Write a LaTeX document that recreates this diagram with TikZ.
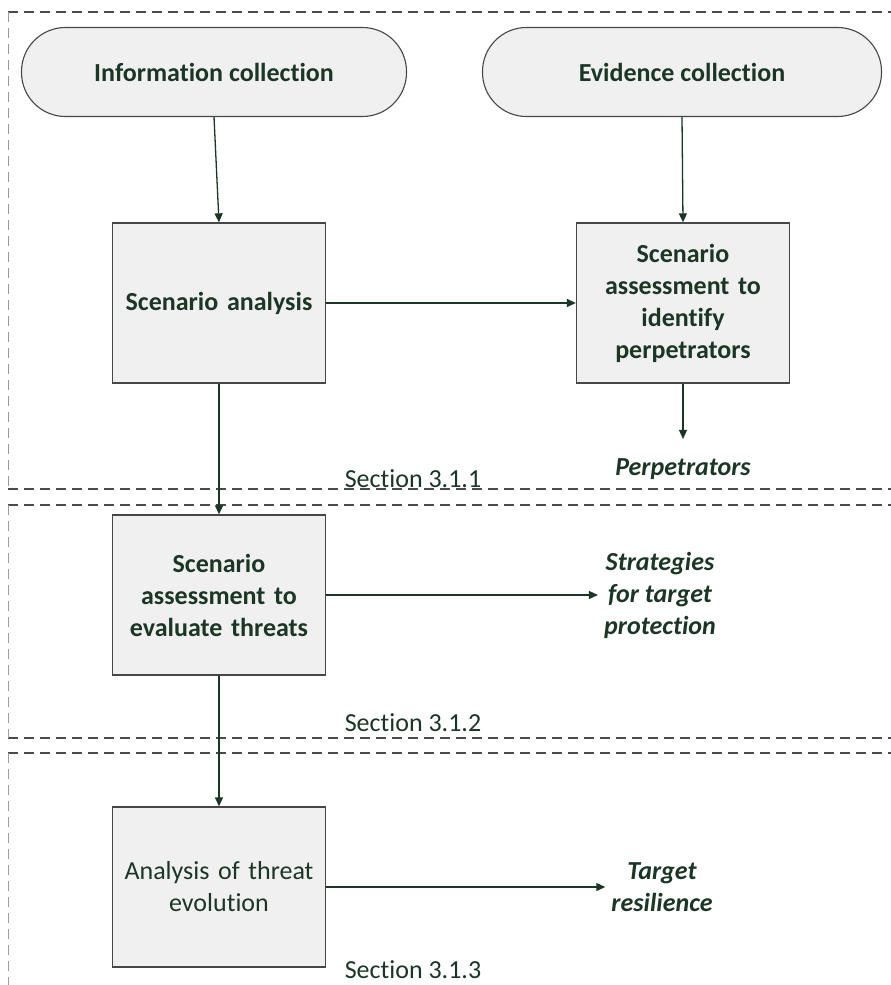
\documentclass[tikz,border=0pt]{standalone}
\usepackage{fontspec}
\setmainfont{Carlito}[Ligatures=NoCommon]
\usetikzlibrary{arrows.meta}
\definecolor{ink}{HTML}{1C3626}
\definecolor{edgegray}{HTML}{474747}
\definecolor{boxfill}{HTML}{F0F0F0}
\definecolor{framegray}{HTML}{4A4A4A}
\definecolor{sidegray}{HTML}{9A9A9A}

\begin{document}
\begin{tikzpicture}[x=1pt,y=-1pt,
  txt/.style={font=\fontsize{26}{32}\selectfont, text=ink},
  source/.style={txt, font=\fontsize{26}{32}\selectfont\bfseries, draw=edgegray, line width=1.1pt,
    fill=boxfill, rounded corners=44pt, minimum height=89pt, inner sep=0pt},
  stage/.style={txt, draw=edgegray, line width=1.3pt, fill=boxfill,
    minimum width=213pt, minimum height=160pt, text width=205pt, align=center, inner sep=0pt},
  boldstage/.style={stage, font=\fontsize{26}{32}\selectfont\bfseries},
  outcome/.style={txt, font=\fontsize{26}{32}\selectfont\bfseries\itshape, align=center, inner sep=6pt},
  seclabel/.style={txt, inner sep=0pt, anchor=base},
  flow/.style={draw=ink, line width=1.3pt, -{Triangle[length=9pt,width=8pt]}},
  panel/.style={draw=framegray, dash pattern=on 10pt off 6pt, line width=1.4pt},
  panelside/.style={draw=sidegray, dash pattern=on 10pt off 6pt, line width=1pt}
]
\clip (0,0) rectangle (891,985);
\fill[white] (0,0) rectangle (891,985);

% section frames: top and bottom rules, dashed left side, open to the right
\draw[panel] (8,12) -- (900,12);
\draw[panel] (8,489) -- (900,489);
\draw[panelside] (8,12) -- (8,489);
\draw[panel] (8,505) -- (900,505);
\draw[panel] (8,738) -- (900,738);
\draw[panelside] (8,505) -- (8,738);
\draw[panel] (8,753) -- (900,753);
\draw[panelside] (8,753) -- (8,990);

% inputs
\node[source, minimum width=385pt] (info) at (214,72) {Information collection};
\node[source, minimum width=399pt] (evid) at (682,72) {Evidence collection};

% processing steps
\node[boldstage] (analysis) at (219,303) {Scenario analysis};
\node[boldstage] (identify) at (683,303) {Scenario\\assessment to\\identify\\perpetrators};
\node[boldstage] (evaluate) at (219,595) {Scenario\\assessment to\\evaluate threats};
\node[stage] (evolution) at (219,887) {Analysis of threat\\evolution};

% outcomes
\node[outcome, inner ysep=19pt, anchor=base] (perp) at (683,475) {Perpetrators};
\node[outcome] (strat) at (660,595) {Strategies\\for target\\protection};
\node[outcome] (resil) at (662,887) {Target\\resilience};

% section labels
\node[seclabel] (s1) at (413,487) {Section 3.1.1};
\node[seclabel] (s2) at (413,731) {Section 3.1.2};
\node[seclabel] (s3) at (413,978) {Section 3.1.3};

% connectors
\draw[flow] (info.south) -- (analysis.north);
\draw[flow] (evid.south) -- (identify.north);
\draw[flow] (analysis.east) -- (identify.west);
\draw[flow] (identify.south) -- (perp.north);
\draw[flow] (analysis.south) -- (evaluate.north);
\draw[flow] (evaluate.east) -- (strat.west);
\draw[flow] (evaluate.south) -- (evolution.north);
\draw[flow] (evolution.east) -- (resil.west);
\end{tikzpicture}
\end{document}
